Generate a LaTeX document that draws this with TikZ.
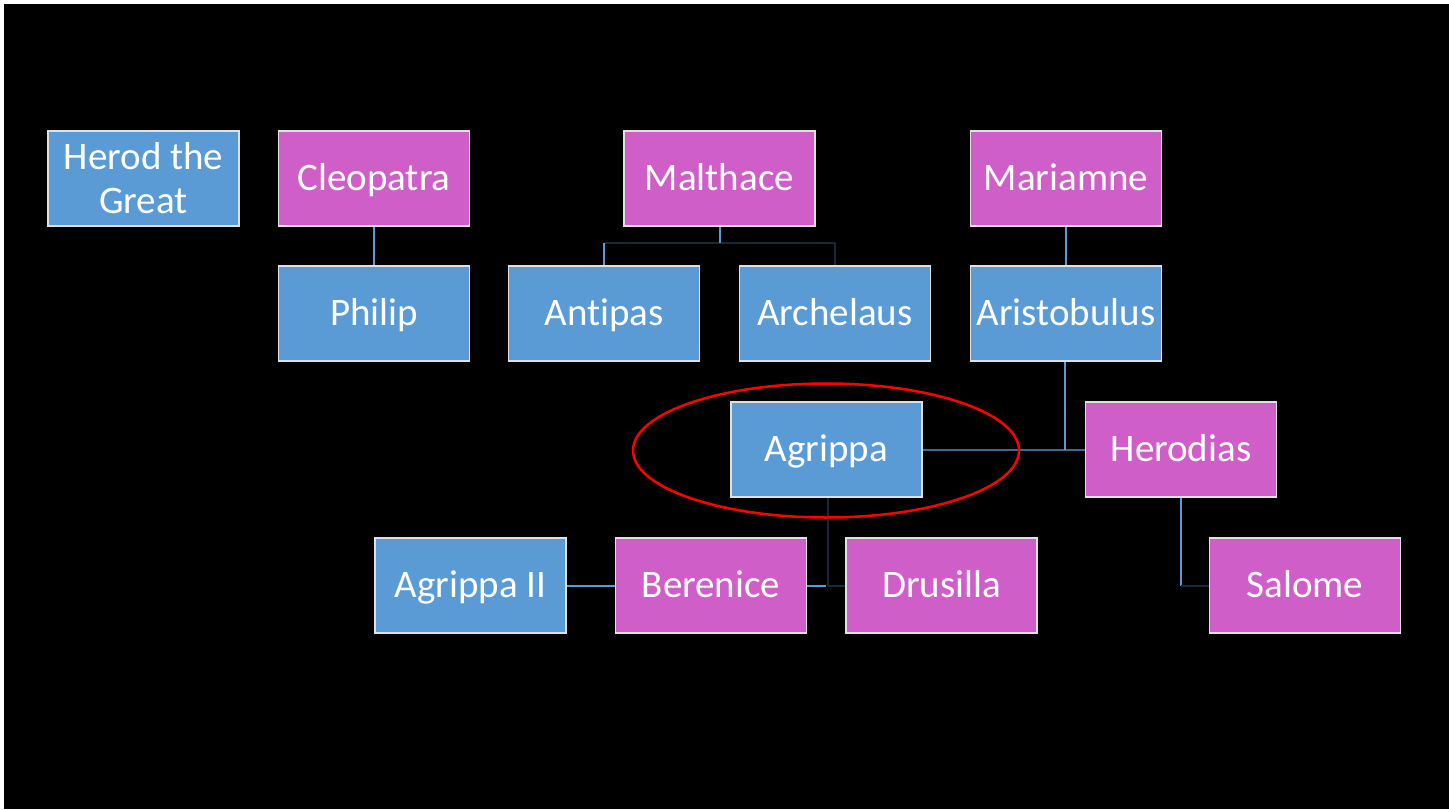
\documentclass[tikz,border=0pt]{standalone}
\usepackage{fontspec}
\setmainfont{Carlito}[Ligatures={NoCommon}]
\definecolor{boxblue}{HTML}{5B9BD5}
\definecolor{boxpink}{HTML}{D05EC8}
\definecolor{linelight}{HTML}{5B9BD5}
\definecolor{linedark}{HTML}{16283A}
\definecolor{linemid}{HTML}{3E6A90}
\tikzset{
  person/.style={draw=white!88!black, line width=1.5pt, minimum width=191pt, minimum height=95pt,
    inner sep=0pt, text=white, font=\fontsize{39}{44}\selectfont, align=center},
  one/.style={text height=30pt, text depth=6pt},
  man/.style={person, fill=boxblue},
  woman/.style={person, fill=boxpink},
  lk/.style={line width=2pt, draw=linelight},
  dk/.style={line width=2pt, draw=linedark},
  mk/.style={line width=2pt, draw=linemid},
}
\begin{document}
\begin{tikzpicture}[x=1pt,y=-1pt]
\useasboundingbox (0,0) rectangle (1449,809);
\fill[white] (0,0) rectangle (1449,809);
\fill[black] (4,4) rectangle (1449,809);
% nodes
\node[man]        (herod)  at (143.5,178.5) {Herod the\\Great};
\node[woman,one]  (cleo)   at (374,178.5) {Cleopatra};
\node[woman,one]  (malt)   at (719.5,178.5) {Malthace};
\node[woman,one]  (mari)   at (1066,178.5) {Mariamne};
\node[man,one]    (philip) at (374,313.5) {Philip};
\node[man,one]    (antip)  at (604,313.5) {Antipas};
\node[man,one]    (arch)   at (835,313.5) {Archelaus};
\node[man,one]    (aris)   at (1066,313.5) {Aristobulus};
\node[man,one]    (agr)    at (826.5,449.5) {Agrippa};
\node[woman,one]  (hdias)  at (1181,449.5) {Herodias};
\node[man,one]    (agr2)   at (470.5,585.5) {Agrippa II};
\node[woman,one]  (bere)   at (711,585.5) {Berenice};
\node[woman,one]  (drus)   at (941.5,585.5) {Drusilla};
\node[woman,one]  (salo)   at (1305,585.5) {Salome};
% coordinates
\coordinate (mbus)  at (719.5,243);
\coordinate (mbusl) at (604,243);
\coordinate (mbusr) at (835,243);
\coordinate (ajoin) at (1065,449.5);
\coordinate (bjoin) at (828,585.5);
\coordinate (bmid)  at (826,585.5);
\coordinate (sjoin) at (1181,585.5);
% connectors
\draw[lk] (cleo.south) -- (philip.north);
\draw[lk] (mari.south) -- (aris.north);
\draw[dk] (mbusl) -- (mbusr);
\draw[lk] (malt.south) -- (mbus);
\draw[lk] (mbusl) -- (antip.north);
\draw[dk] (mbusr) -- (arch.north);
\draw[mk] (agr.east) -- (hdias.west);
\draw[lk] (aris.south -| ajoin) -- (ajoin);
\draw[dk] (agr.south -| bjoin) -- (bjoin);
\draw[dk] (bjoin) -- (drus.west);
\draw[lk] (bere.east) -- (bmid);
\draw[lk] (agr2.east) -- (bere.west);
\draw[lk] (hdias.south -| sjoin) -- (sjoin);
\draw[dk] (sjoin) -- (salo.west);
% highlight
\draw[red, line width=2.5pt] (826,450.5) ellipse [x radius=193, y radius=67];
\end{tikzpicture}
\end{document}
